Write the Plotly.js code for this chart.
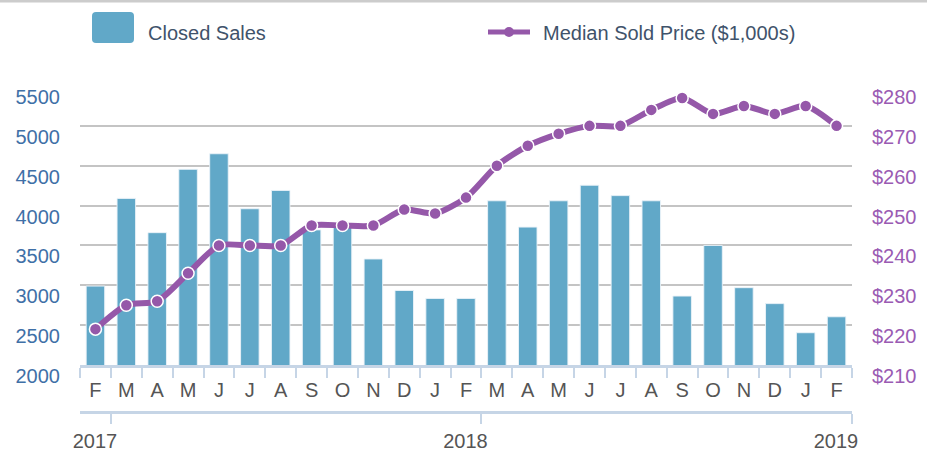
<!DOCTYPE html>
<html>
<head>
<meta charset="utf-8">
<script src="https://cdn.plot.ly/plotly-3.0.1.min.js"></script>
<style>html,body{margin:0;padding:0;background:#fff;}#chart{width:927px;height:452px;}</style>
</head>
<body>
<div id="chart"></div>
<script>
// ---- data ----
const periods = ['2017-02','2017-03','2017-04','2017-05','2017-06','2017-07','2017-08','2017-09','2017-10','2017-11','2017-12','2018-01','2018-02','2018-03','2018-04','2018-05','2018-06','2018-07','2018-08','2018-09','2018-10','2018-11','2018-12','2019-01','2019-02'];
const monthLabels = ['F','M','A','M','J','J','A','S','O','N','D','J','F','M','A','M','J','J','A','S','O','N','D','J','F'];
const closedSales = [2990,4090,3660,4455,4650,3960,4190,3695,3740,3330,2935,2835,2835,4060,3730,4060,4255,4125,4060,2865,3500,2970,2770,2405,2605];
const medianPrice = [219,225,226,233,240,240,240,245,245,245,249,248,252,260,265,268,270,270,274,277,273,275,273,275,270];
const salesTicks = [2000,2500,3000,3500,4000,4500,5000,5500];
const priceTicks = [210,220,230,240,250,260,270,280];
const priceTickText = priceTicks.map(v => '$' + v);

// year axis: a tick at the end of each February, labelled with its year
const yearTickVals = [], yearTickText = [];
periods.forEach((p, i) => { if (p.endsWith('-02')) { yearTickVals.push(i + 0.5); yearTickText.push(p.slice(0, 4)); } });

// ---- layout helpers ----
const WIDTH = 927, HEIGHT = 452;
const M = {l: 80, r: 75, t: 86, b: 40};
const PW = WIDTH - M.l - M.r, PH = HEIGHT - M.t - M.b;
const px = x => (x - M.l) / PW;
const py = y => (HEIGHT - M.b - y) / PH;
const yDomainBottom = (HEIGHT - M.b - 365) / PH;

const FONT = "'Liberation Sans', Arial, sans-serif";
const BAR = '#61a8c8', PURPLE = '#9558a9', AXIS = '#c6d5e6';

function roundRect(x0, y0, x1, y1, r) {
  const X = v => px(v), Y = v => py(v);
  return `M ${X(x0 + r)} ${Y(y0)} L ${X(x1 - r)} ${Y(y0)} Q ${X(x1)} ${Y(y0)} ${X(x1)} ${Y(y0 + r)} ` +
         `L ${X(x1)} ${Y(y1 - r)} Q ${X(x1)} ${Y(y1)} ${X(x1 - r)} ${Y(y1)} L ${X(x0 + r)} ${Y(y1)} ` +
         `Q ${X(x0)} ${Y(y1)} ${X(x0)} ${Y(y1 - r)} L ${X(x0)} ${Y(y0 + r)} Q ${X(x0)} ${Y(y0)} ${X(x0 + r)} ${Y(y0)} Z`;
}

const traces = [
  {
    type: 'bar', name: 'Closed Sales', x: periods, y: closedSales,
    marker: {color: BAR, line: {color: 'rgba(235,243,248,0.9)', width: 1}},
    showlegend: false, hoverinfo: 'x+y'
  },
  {
    type: 'scatter', mode: 'lines+markers', name: 'Median Sold Price ($1,000s)',
    x: periods, y: medianPrice, yaxis: 'y2',
    line: {color: PURPLE, width: 6, shape: 'spline', smoothing: 0.7},
    marker: {color: PURPLE, size: 12, line: {color: '#ffffff', width: 1.5}},
    showlegend: false
  },
  { // carrier for the year axis
    type: 'scatter', x: [yearTickVals[0]], y: [null], xaxis: 'x2', showlegend: false, hoverinfo: 'skip'
  }
];

const layout = {
  width: WIDTH, height: HEIGHT,
  margin: M,
  paper_bgcolor: '#ffffff', plot_bgcolor: '#ffffff',
  font: {family: FONT, size: 20, color: '#555555'},
  bargap: 0.4,
  showlegend: false,
  xaxis: {
    type: 'category', categoryorder: 'array', categoryarray: periods,
    range: [-0.5, periods.length - 0.5],
    tickmode: 'array', tickvals: periods, ticktext: monthLabels,
    tickson: 'boundaries', ticks: 'outside', ticklen: 10, tickwidth: 2, tickcolor: AXIS,
    showline: true, linecolor: AXIS, linewidth: 3,
    showgrid: false, zeroline: false,
    tickfont: {family: FONT, size: 20, color: '#555555'},
    ticklabelstandoff: 5
  },
  xaxis2: {
    overlaying: 'x', anchor: 'free', position: 0, side: 'bottom',
    type: 'linear', range: [-0.5, periods.length - 0.5],
    tickmode: 'array', tickvals: yearTickVals, ticktext: yearTickText,
    ticks: 'outside', ticklen: 10, tickwidth: 2, tickcolor: AXIS,
    showline: true, linecolor: AXIS, linewidth: 3,
    showgrid: false, zeroline: false,
    tickfont: {family: FONT, size: 20, color: '#555555'},
    ticklabelshift: -16, ticklabelstandoff: 0
  },
  yaxis: {
    domain: [yDomainBottom, 1],
    range: [2000, 5500], tickmode: 'array', tickvals: salesTicks,
    showgrid: true, gridcolor: '#c4c4c4', gridwidth: 2,
    zeroline: false, showline: false, ticks: '',
    tickfont: {family: FONT, size: 20, color: '#3f70a7'},
    ticklabelshift: 11, ticklabelstandoff: 19
  },
  yaxis2: {
    domain: [yDomainBottom, 1],
    overlaying: 'y', side: 'right',
    range: [210, 280], tickmode: 'array', tickvals: priceTicks, ticktext: priceTickText,
    showgrid: false, zeroline: false, showline: false, ticks: '',
    tickfont: {family: FONT, size: 20, color: '#9a5bb3'},
    ticklabelshift: 11, ticklabelstandoff: 19
  },
  shapes: [
    {type: 'line', xref: 'paper', yref: 'paper', x0: px(0), x1: px(WIDTH), y0: py(1), y1: py(1),
     line: {color: '#cccccc', width: 3}},
    {type: 'path', xref: 'paper', yref: 'paper', path: roundRect(92, 12, 134, 43, 4),
     fillcolor: BAR, line: {width: 0}},
    {type: 'line', xref: 'paper', yref: 'paper', x0: px(488), x1: px(530), y0: py(32), y1: py(32),
     line: {color: PURPLE, width: 5}},
    {type: 'circle', xref: 'paper', yref: 'paper', x0: px(504), x1: px(514), y0: py(37), y1: py(27),
     fillcolor: PURPLE, line: {width: 0}}
  ],
  annotations: [
    {xref: 'paper', yref: 'paper', x: px(146), y: py(33), xanchor: 'left', yanchor: 'middle',
     text: 'Closed Sales', showarrow: false, font: {family: FONT, size: 20, color: '#3f536b'}},
    {xref: 'paper', yref: 'paper', x: px(541), y: py(33), xanchor: 'left', yanchor: 'middle',
     text: 'Median Sold Price ($1,000s)', showarrow: false, font: {family: FONT, size: 20, color: '#3f536b'}}
  ]
};

Plotly.newPlot('chart', traces, layout, {displayModeBar: false, staticPlot: true});
</script>
</body>
</html>
